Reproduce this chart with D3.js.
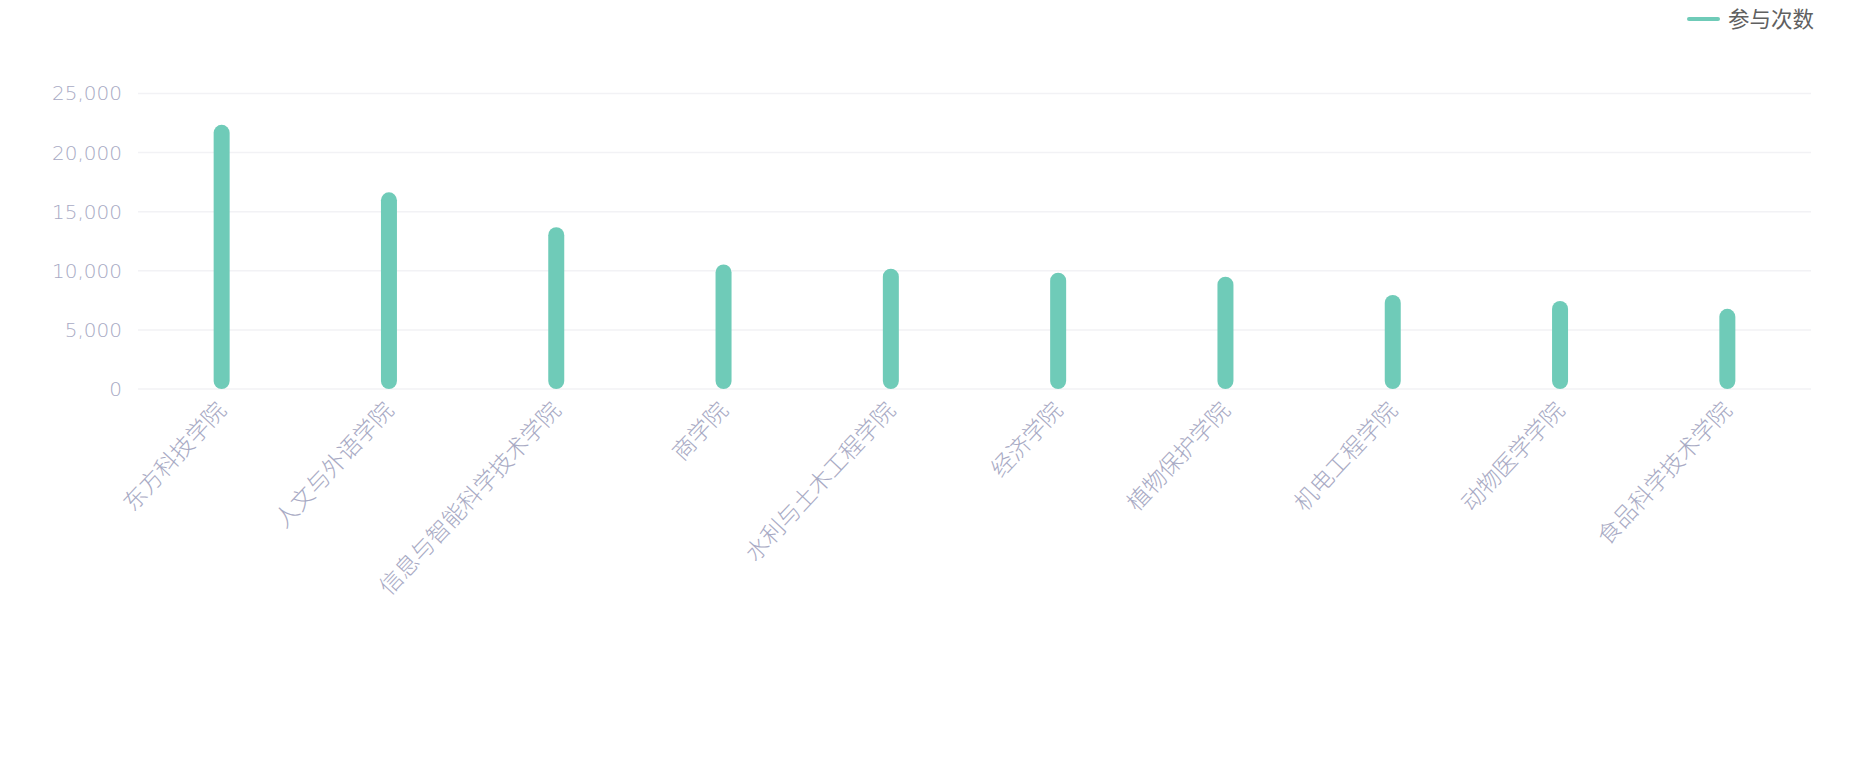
<!DOCTYPE html>
<html>
<head>
<meta charset="utf-8">
<script src="https://cdn.jsdelivr.net/npm/d3@7"></script>
<style>
  html, body { margin: 0; padding: 0; background: #fff; }
  svg { display: block; }
  text { font-family: "Noto Sans CJK SC", "Noto Sans", sans-serif; }
</style>
</head>
<body>
<svg id="chart" width="1867" height="779"></svg>
<script>
const categories = ["东方科技学院", "人文与外语学院", "信息与智能科学技术学院", "商学院", "水利与土木工程学院", "经济学院", "植物保护学院", "机电工程学院", "动物医学学院", "食品科学技术学院"];
const seriesName = "参与次数";
const values = [22350, 16640, 13690, 10540, 10180, 9840, 9500, 7950, 7450, 6780];
const yTicks = [0, 5000, 10000, 15000, 20000, 25000];

const W = 1867, H = 779;
const margin = { left: 138, right: 56, top: 93.5, bottom: 389 };
const svg = d3.select("#chart");

const x = d3.scaleBand().domain(categories).range([margin.left, W - margin.right]).padding(0);
const y = d3.scaleLinear().domain([0, 25000]).range([margin.bottom, margin.top]);

const labelColor = "#a8aac4";
const fmt = d3.format(",");

// grid lines
svg.append("g").selectAll("line").data(yTicks).join("line")
  .attr("x1", margin.left).attr("x2", W - margin.right)
  .attr("y1", d => y(d)).attr("y2", d => y(d))
  .attr("stroke", "#f2f2f5").attr("stroke-width", 1.5);

// y axis labels
const yAxis = d3.axisLeft(y).tickValues(yTicks).tickFormat(fmt).tickSize(0).tickPadding(16);
const gy = svg.append("g").attr("transform", `translate(${margin.left},0)`).call(yAxis);
gy.select(".domain").remove();
gy.selectAll("text")
  .attr("fill", labelColor)
  .style("font-size", "20px")
  .style("font-weight", 200)
  .style("font-family", "'DejaVu Sans', sans-serif");

// x axis labels
const xAxis = d3.axisBottom(x).tickSize(0).tickPadding(0);
const gx = svg.append("g").attr("transform", `translate(0,${y(0)})`).call(xAxis);
gx.select(".domain").remove();
gx.selectAll(".tick text")
  .attr("fill", labelColor)
  .style("font-size", "23px")
  .style("font-weight", 300)
  .style("font-family", "'Noto Sans CJK SC', sans-serif")
  .attr("text-anchor", "end")
  .attr("dy", "0.35em")
  .attr("y", 0)
  .attr("transform", "translate(0,17) rotate(-47)");

// bars
const bw = 16;
svg.append("g").selectAll("rect").data(values).join("rect")
  .attr("x", (d, i) => x(categories[i]) + x.bandwidth() / 2 - bw / 2)
  .attr("y", d => y(d))
  .attr("width", bw)
  .attr("height", d => y(0) - y(d))
  .attr("rx", bw / 2).attr("ry", bw / 2)
  .attr("fill", "#6fcbb8");

// legend
const lg = svg.append("g").attr("transform", "translate(1689,19)");
lg.append("line").attr("x1", 0).attr("x2", 29).attr("y1", 0).attr("y2", 0)
  .attr("stroke", "#6fcbb8").attr("stroke-width", 4).attr("stroke-linecap", "round");
lg.append("text").attr("x", 39).attr("y", 0).attr("dy", "0.35em")
  .attr("fill", "#606060").style("font-size", "21.5px")
  .text(seriesName);
</script>
</body>
</html>
